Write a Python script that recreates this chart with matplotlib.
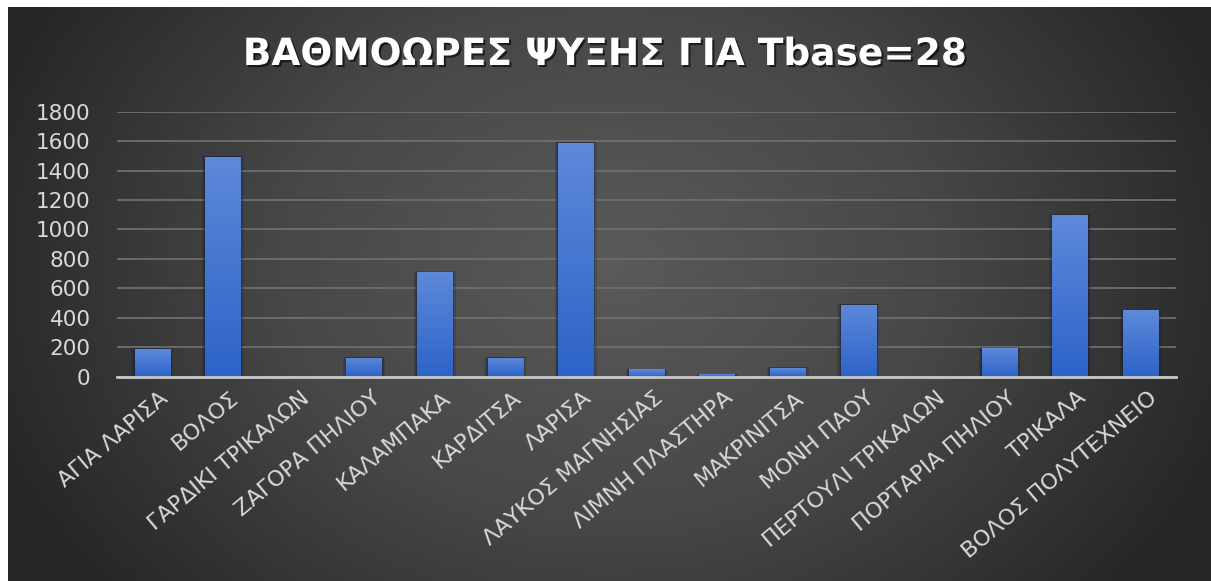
import numpy as np
import matplotlib
matplotlib.use("Agg")
import matplotlib.pyplot as plt
import matplotlib.patheffects as pe
from matplotlib.colors import LinearSegmentedColormap
from matplotlib.transforms import ScaledTranslation

stations = ["ΑΓΙΑ ΛΑΡΙΣΑ", "ΒΟΛΟΣ", "ΓΑΡΔΙΚΙ ΤΡΙΚΑΛΩΝ", "ΖΑΓΟΡΑ ΠΗΛΙΟΥ",
            "ΚΑΛΑΜΠΑΚΑ", "ΚΑΡΔΙΤΣΑ", "ΛΑΡΙΣΑ", "ΛΑΥΚΟΣ ΜΑΓΝΗΣΙΑΣ",
            "ΛΙΜΝΗ ΠΛΑΣΤΗΡΑ", "ΜΑΚΡΙΝΙΤΣΑ", "ΜΟΝΗ ΠΑΟΥ", "ΠΕΡΤΟΥΛΙ ΤΡΙΚΑΛΩΝ",
            "ΠΟΡΤΑΡΙΑ ΠΗΛΙΟΥ", "ΤΡΙΚΑΛΑ", "ΒΟΛΟΣ ΠΟΛΥΤΕΧΝΕΙΟ"]
cooling_hours = [190, 1495, 0, 130, 710, 130, 1590, 50, 15, 60, 490, 0, 195, 1100, 450]
y_ticks = [0, 200, 400, 600, 800, 1000, 1200, 1400, 1600, 1800]
title = "ΒΑΘΜΟΩΡΕΣ ΨΥΞΗΣ ΓΙΑ Tbase=28"

W, H = 1211, 581
fig = plt.figure(figsize=(W / 100, H / 100), dpi=100)
fig.patch.set_facecolor("white")

# dark radial background
bg = fig.add_axes([8 / W, 0, (W - 8) / W, 574 / H])
bg.set_axis_off()
xx, yy = np.meshgrid(np.linspace(0, 1, 600), np.linspace(0, 1, 300))
r = np.sqrt(((xx - 0.5) / 0.55) ** 2 + ((yy - 0.55) / 0.9) ** 2)
r = np.clip(r, 0, 1)
bg_cmap = LinearSegmentedColormap.from_list("bg", ["#5a5a5a", "#474747", "#262626"])
bg.imshow(r, cmap=bg_cmap, vmin=0, vmax=1, aspect="auto", extent=[0, 1, 0, 1], origin="lower")
bg.set_xlim(0, 1)
bg.set_ylim(0, 1)

ax = fig.add_axes([117 / W, (H - 376.7) / H, (1176 - 117) / W, (376.7 - 111.7) / H])
ax.set_facecolor("none")
x = np.arange(len(stations))
bars = ax.bar(x, cooling_hours, width=0.5, color="#3a6fd0", zorder=3)

# soft shadow and vertical gradient on each bar
bar_cmap = LinearSegmentedColormap.from_list("bar", ["#2d63c8", "#5d89d9"])
grad = np.linspace(0, 1, 100).reshape(-1, 1)
for b in bars:
    x0, w, h = b.get_x(), b.get_width(), b.get_height()
    if h <= 0:
        continue
    for k, a in [(0.09, 0.18), (0.05, 0.25), (0.025, 0.3)]:
        ax.bar(x0 + w / 2, h + k * 60, width=w + k, color="#0f1c33", alpha=a,
               zorder=2, linewidth=0)
    im = ax.imshow(grad, cmap=bar_cmap, extent=[x0, x0 + w, 0, h], origin="lower",
                   aspect="auto", zorder=3.5)
    im.set_clip_path(b)

ax.set_xlim(-0.5, len(stations) - 0.5)
ax.set_ylim(0, 1800)
ax.set_yticks(y_ticks)
ax.yaxis.grid(True, color="#6e6e6e", linewidth=1.3, zorder=0)
ax.set_axisbelow(True)
for s in ["top", "right", "left"]:
    ax.spines[s].set_visible(False)
ax.spines["bottom"].set_color("#c8c8c8")
ax.spines["bottom"].set_linewidth(2)
ax.spines["bottom"].set_zorder(5)

ax.tick_params(axis="y", length=0, pad=19, labelcolor="#d9d9d9", labelsize=15.5)
ax.tick_params(axis="x", length=0, pad=8, labelcolor="#d9d9d9", labelsize=16)
ax.set_xticks(x)
ax.set_xticklabels(stations, rotation=40, ha="right", va="top", rotation_mode="anchor")
shift = ScaledTranslation(5 / 72, 0, fig.dpi_scale_trans)
for lab in ax.get_xticklabels():
    lab.set_transform(lab.get_transform() + shift)

fig.text(605 / W, 1 - 55 / H, title, ha="center", va="center", color="white",
         fontsize=27, fontweight="bold", family="DejaVu Sans",
         path_effects=[pe.withSimplePatchShadow(offset=(1.5, -1.5), shadow_rgbFace="black", alpha=0.6)])

fig.savefig("out.png", dpi=100, facecolor=fig.get_facecolor())
